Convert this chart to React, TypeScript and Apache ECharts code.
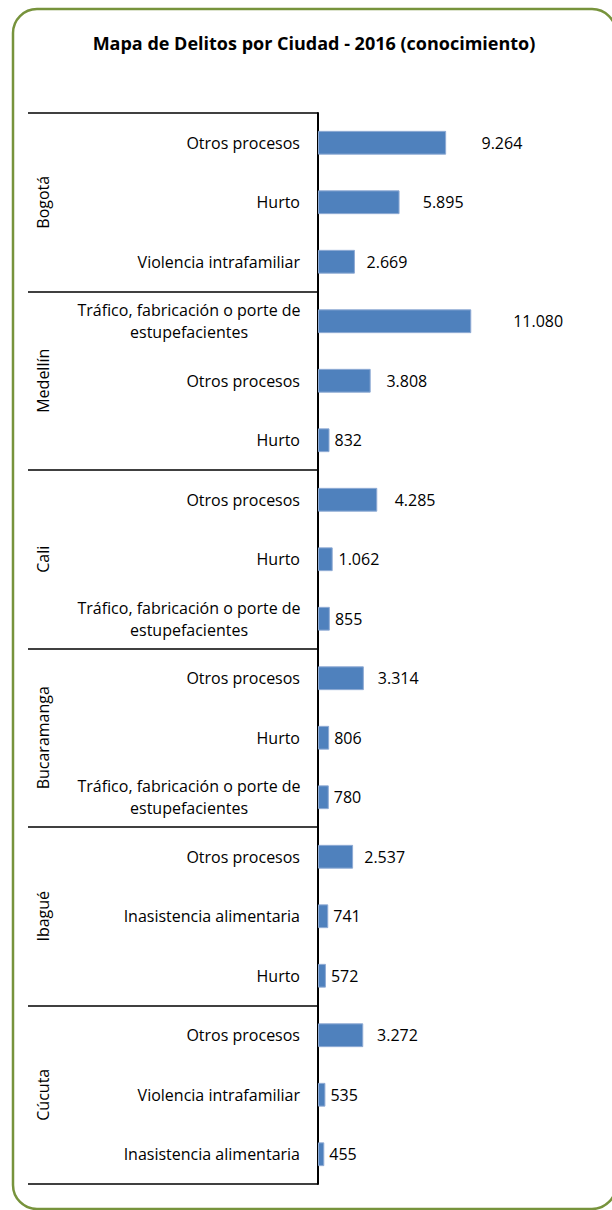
import React, { useEffect, useRef } from "react";
import * as echarts from "echarts";

const TITLE = "Mapa de Delitos por Ciudad - 2016 (conocimiento)";

const cities = ["Bogotá", "Medellín", "Cali", "Bucaramanga", "Ibagué", "Cúcuta"];

const TRAFICO = "Tráfico, fabricación o porte de\nestupefacientes";

const categories = [
  "Otros procesos", "Hurto", "Violencia intrafamiliar",
  TRAFICO, "Otros procesos", "Hurto",
  "Otros procesos", "Hurto", TRAFICO,
  "Otros procesos", "Hurto", TRAFICO,
  "Otros procesos", "Inasistencia alimentaria", "Hurto",
  "Otros procesos", "Violencia intrafamiliar", "Inasistencia alimentaria",
];

const values = [
  9264, 5895, 2669,
  11080, 3808, 832,
  4285, 1062, 855,
  3314, 806, 780,
  2537, 741, 572,
  3272, 535, 455,
];

const FONT = "'Open Sans', 'Noto Sans', sans-serif";
const FS = 16;

const fmt = (v: number) => String(v).replace(/\B(?=(\d{3})+(?!\d))/g, ".");

export default function App() {
  const ref = useRef<HTMLDivElement>(null);
  useEffect(() => {
    document.body.style.margin = "0";
    const chart = echarts.init(ref.current!, null, { renderer: "svg" });
    chart.setOption({
      animation: false,
      backgroundColor: "#fff",
      graphic: [
        {
          type: "rect",
          shape: { x: 13, y: 9, width: 603, height: 1200, r: 24 },
          style: { fill: "none", stroke: "#77933C", lineWidth: 2.5 },
          silent: true,
        },
        {
          type: "text",
          x: 314,
          y: 43,
          style: {
            text: TITLE,
            textAlign: "center",
            textVerticalAlign: "middle",
            fontFamily: FONT,
            fontSize: 18,
            fontWeight: "bold",
            fill: "#000",
          },
        },
      ],
      grid: { left: 318, top: 113, height: 1071, width: 166, containLabel: false },
      xAxis: {
        type: "value",
        min: 0,
        max: 12000,
        show: false,
      },
      yAxis: [
        {
          type: "category",
          inverse: true,
          data: categories,
          axisLine: { show: true, lineStyle: { color: "#000", width: 2 } },
          axisTick: { show: false },
          axisLabel: {
            margin: 18,
            fontFamily: FONT,
            fontSize: FS,
            color: "#000",
            interval: 0,
            formatter: (v: string) =>
              v.includes("\n")
                ? v.split("\n").map((l) => `{c|${l}}`).join("\n")
                : v,
            rich: {
              c: {
                width: 222,
                align: "center",
                fontFamily: FONT,
                fontSize: FS,
                lineHeight: 22,
                color: "#000",
              },
            },
          },
        },
        {
          type: "category",
          inverse: true,
          position: "left",
          data: cities,
          axisLine: { show: false },
          axisTick: { show: true, length: 290, lineStyle: { color: "#000", width: 1.5 } },
          axisLabel: {
            rotate: 90,
            margin: 265,
            fontFamily: FONT,
            fontSize: FS,
            lineHeight: 20,
            color: "#000",
            interval: 0,
          },
        },
      ],
      series: [
        {
          type: "bar",
          yAxisIndex: 0,
          barWidth: "40%",
          itemStyle: { color: "#4F81BD", borderColor: "#8EAAD4", borderWidth: 1 },
          data: values.map((v) => ({
            value: v,
            label: {
              show: true,
              position: "right",
              distance: Math.max(5, v * 0.0036 + 2),
              formatter: () => fmt(v),
              fontFamily: FONT,
              fontSize: FS,
              color: "#000",
            },
          })),
        },
      ],
    });
    return () => chart.dispose();
  }, []);
  return <div ref={ref} style={{ width: 612, height: 1210 }} />;
}
